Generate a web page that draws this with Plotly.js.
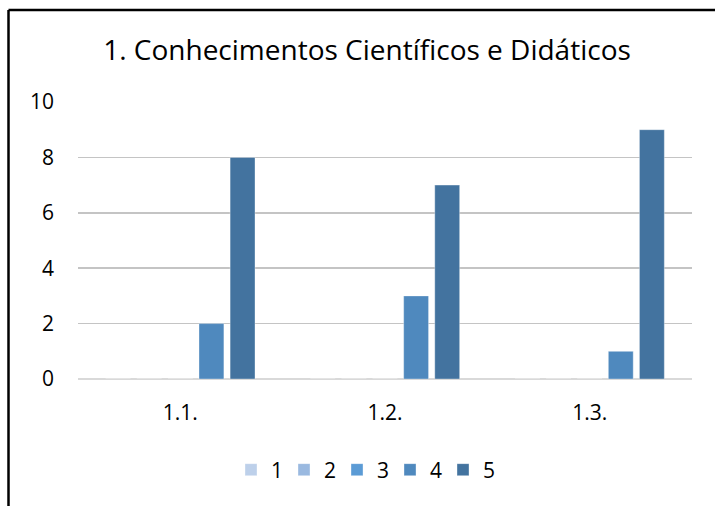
<!DOCTYPE html>
<html>
<head>
<meta charset="utf-8">
<script src="https://cdn.plot.ly/plotly-3.0.1.min.js"></script>
<style>
html,body{margin:0;padding:0;background:#fff;}
#chart{width:715px;height:506px;}
</style>
</head>
<body>
<div id="chart"></div>
<script>
const categories = ["1.1.", "1.2.", "1.3."];
const seriesNames = ["1", "2", "3", "4", "5"];
const s1 = [0, 0, 0];
const s2 = [0, 0, 0];
const s3 = [0, 0, 0];
const s4 = [2, 3, 1];
const s5 = [8, 7, 9];
const yTicks = [0, 2, 4, 6, 8, 10];
const titleText = "1. Conhecimentos Científicos e Didáticos";

const colors = ["#BDD0EA", "#9AB9E0", "#5B9BD5", "#4F89BE", "#43739F"];
const values = [s1, s2, s3, s4, s5];
const FONT = "Open Sans, Liberation Sans, sans-serif";

const traces = values.map((v, i) => ({
  type: "bar",
  name: seriesNames[i],
  x: categories,
  y: v,
  marker: {color: colors[i], line: {color: "rgba(255,255,255,0.35)", width: 1}},
  hoverinfo: "skip"
}));

const L = 78, R = 692, T = 102, B = 379;
const W = 715, H = 506;
const px = x => (x - L) / (R - L);
const py = y => (B - y) / (B - T);

const layout = {
  width: W, height: H,
  margin: {l: L, r: W - R, t: T, b: H - B, pad: 0},
  paper_bgcolor: "#ffffff",
  plot_bgcolor: "#ffffff",
  font: {family: FONT, color: "#000000", size: 21},
  title: {
    text: titleText,
    font: {family: FONT, size: 28, color: "#000000"},
    x: 367 / W, xref: "container", xanchor: "center",
    y: 1 - 50 / H, yref: "container", yanchor: "middle"
  },
  barmode: "group",
  bargap: 0.24,
  bargroupgap: 0.2,
  xaxis: {
    type: "category",
    showgrid: false,
    showline: false,
    zeroline: false,
    ticks: "",
    tickfont: {family: FONT, size: 21, color: "#000"},
    ticklabelstandoff: 19
  },
  yaxis: {
    range: [0, 10],
    tickvals: yTicks,
    ticktext: yTicks.map(String),
    showgrid: true,
    gridcolor: "#C4C4C4",
    gridwidth: 1.5,
    zeroline: true,
    zerolinecolor: "#D9D9D9",
    zerolinewidth: 2,
    showline: false,
    ticks: "",
    tickfont: {family: FONT, size: 21, color: "#000"},
    ticklabelstandoff: 23
  },
  showlegend: true,
  legend: {
    orientation: "h",
    x: 0.465, xanchor: "center",
    y: py(470), yanchor: "middle",
    font: {family: FONT, size: 21, color: "#000"},
    entrywidth: 8, entrywidthmode: "pixels",
    bgcolor: "rgba(0,0,0,0)",
    traceorder: "normal"
  },
  shapes: [
    {type: "line", xref: "paper", yref: "paper", x0: px(8.5), x1: px(730), y0: py(10), y1: py(10), line: {color: "#000", width: 2.5}},
    {type: "line", xref: "paper", yref: "paper", x0: px(8.5), x1: px(8.5), y0: py(10), y1: py(530), line: {color: "#000", width: 2.5}}
  ]
};

Plotly.newPlot("chart", traces, layout, {staticPlot: true, displayModeBar: false});
</script>
</body>
</html>
